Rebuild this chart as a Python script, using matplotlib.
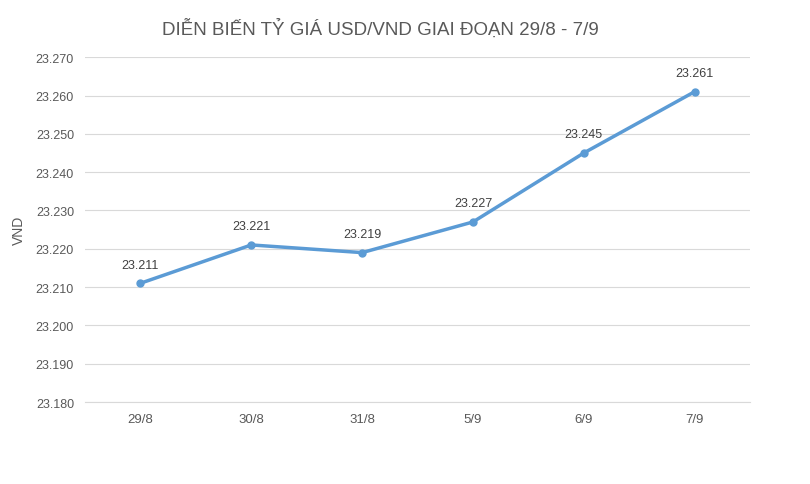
import matplotlib
matplotlib.use("Agg")
import matplotlib.pyplot as plt

categories = ["29/8", "30/8", "31/8", "5/9", "6/9", "7/9"]
values = [23.211, 23.221, 23.219, 23.227, 23.245, 23.261]
yticks = [23.180, 23.190, 23.200, 23.210, 23.220, 23.230, 23.240, 23.250, 23.260, 23.270]

plt.rcParams['font.family'] = ['Liberation Sans', 'DejaVu Sans']
fig = plt.figure(figsize=(8.1, 4.85), dpi=100)
ax = fig.add_axes([0.105, 0.169, 0.821, 0.711])
x = list(range(len(categories)))
ax.plot(x, values, color="#5B9BD5", lw=2.5, marker="o", ms=5, zorder=3)
for xi, v in zip(x, values):
    ax.annotate(f"{v:.3f}", (xi, v), xytext=(0, 9), textcoords="offset points",
                ha="center", va="bottom", fontsize=9, color="#404040")
ax.set_xlim(-0.5, len(categories) - 0.5)
ax.set_ylim(23.180, 23.270)
ax.set_yticks(yticks)
ax.set_yticklabels([f"{t:.3f}" for t in yticks], fontsize=9, color="#595959")
ax.set_xticks(x)
ax.set_xticklabels(categories, fontsize=9.5, color="#595959")
ax.grid(axis="y", color="#D9D9D9", lw=0.8)
ax.set_axisbelow(True)
for s in ["top", "right", "left"]:
    ax.spines[s].set_visible(False)
ax.spines["bottom"].set_color("#D9D9D9")
ax.tick_params(length=0, pad=8)
ax.set_ylabel("VND", fontsize=10, color="#595959", labelpad=7)
fig.text(0.47, 0.94, "DIỄN BIẾN TỶ GIÁ USD/VND GIAI ĐOẠN 29/8 - 7/9",
         ha="center", va="center", fontsize=13.5, color="#595959")
fig.savefig("out.png", dpi=100)
